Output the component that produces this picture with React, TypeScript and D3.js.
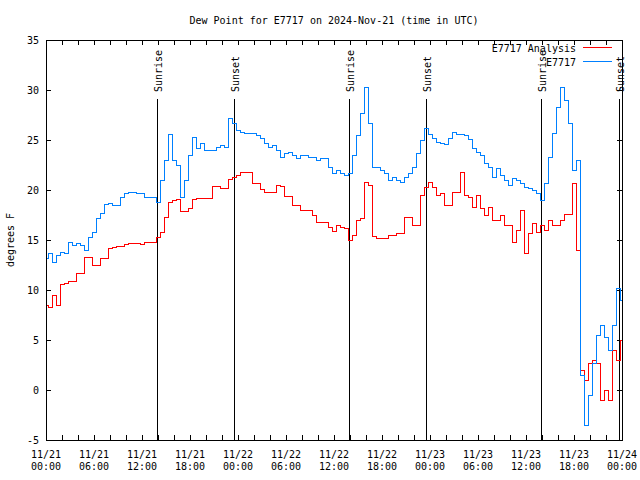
import React from "react";
import * as d3 from "d3";

const TITLE = "Dew Point for E7717 on 2024-Nov-21 (time in UTC)";
const Y_LABEL = "degrees F";
const STEP_HOURS = 0.5;

// E7717 observations, every 30 min from 11/21 00:00 UTC
const obsValues = [
  13.2, 13.7, 12.8, 13.5, 13.8, 13.7, 14.8, 14.5, 14.7, 14.5, 14.0, 15.3, 15.8, 17.2, 17.7, 18.6,
  18.7, 18.5, 18.5, 19.3, 19.7, 19.8, 19.8, 19.7, 19.7, 19.3, 19.3, 19.3, 18.8, 21.0, 23.0, 25.6,
  23.0, 22.5, 19.3, 21.0, 23.5, 25.3, 24.2, 24.7, 24.0, 24.0, 24.0, 24.3, 24.5, 24.3, 27.2, 26.7,
  26.0, 25.8, 25.7, 25.7, 25.7, 25.5, 25.2, 24.7, 24.3, 24.5, 24.0, 23.3, 23.7, 23.8, 23.5, 23.2,
  23.5, 23.5, 23.3, 23.3, 23.0, 23.2, 23.2, 22.3, 21.7, 22.0, 21.7, 21.5, 21.7, 23.5, 25.5, 27.7,
  30.3, 26.7, 22.3, 22.3, 22.0, 21.7, 21.0, 21.3, 21.0, 20.8, 21.3, 21.7, 22.3, 23.7, 25.0, 26.2,
  25.6, 25.2, 24.8, 24.7, 24.6, 25.2, 25.8, 25.6, 25.6, 25.5, 25.1, 24.2, 23.8, 23.5, 22.7, 22.3,
  21.3, 22.2, 21.5, 21.0, 20.5, 21.2, 21.0, 20.7, 20.3, 20.2, 20.0, 19.7, 19.0, 20.7, 23.3, 25.7,
  28.3, 30.3, 29.0, 26.7, 22.0, 23.0, 1.5, -3.5, -0.5, 2.7, 5.5, 6.5, 5.3, 4.0, 6.5, 10.2, 9.0,
];

// E7717 Analysis, every 30 min from 11/21 00:00 UTC
const analysisValues = [
  8.5, 8.3, 9.5, 8.5, 10.6, 10.7, 10.9, 10.9, 11.7, 11.7, 13.3, 13.3, 12.5, 12.5, 13.2, 13.2,
  14.2, 14.3, 14.4, 14.4, 14.6, 14.7, 14.7, 14.7, 14.6, 14.8, 14.8, 14.8, 15.3, 15.8, 17.3, 18.8,
  19.0, 19.1, 17.9, 17.9, 18.2, 19.1, 19.2, 19.2, 19.2, 19.2, 20.4, 20.4, 20.2, 20.2, 21.1, 21.3,
  21.5, 21.8, 21.8, 21.8, 20.7, 20.7, 20.1, 19.8, 19.8, 19.8, 20.5, 20.4, 19.4, 19.4, 18.5, 18.5,
  18.0, 18.0, 18.0, 17.5, 16.8, 16.8, 16.8, 16.3, 15.9, 16.5, 16.3, 16.2, 15.0, 15.5, 17.0, 17.2,
  20.8, 20.5, 15.4, 15.2, 15.2, 15.2, 15.5, 15.5, 15.7, 15.7, 17.3, 17.3, 16.5, 16.5, 19.5, 20.3,
  20.8, 20.3, 19.5, 19.7, 18.5, 18.5, 19.8, 19.8, 21.8, 19.5, 19.3, 18.3, 19.5, 18.2, 17.5, 18.3,
  17.0, 17.0, 17.5, 16.5, 16.5, 14.8, 16.0, 18.0, 13.7, 15.7, 16.7, 15.8, 16.5, 16.0, 17.0, 16.5,
  16.5, 17.0, 17.6, 17.6, 20.7, 14.0, 2.0, 1.0, 2.7, 3.0, 2.7, -1.0, 0.0, -1.0, 4.0, 3.0, 5.0,
];

const yTicks = [-5, 0, 5, 10, 15, 20, 25, 30, 35];
const xTickHours = [0, 6, 12, 18, 24, 30, 36, 42, 48, 54, 60, 66, 72];
const xTickDates = ["11/21", "11/21", "11/21", "11/21", "11/22", "11/22", "11/22", "11/22", "11/23", "11/23", "11/23", "11/23", "11/24"];
const xTickTimes = ["00:00", "06:00", "12:00", "18:00", "00:00", "06:00", "12:00", "18:00", "00:00", "06:00", "12:00", "18:00", "00:00"];
const sunHours = [13.9, 23.55, 37.9, 47.55, 61.9, 71.6];
const sunLabels = ["Sunrise", "Sunset", "Sunrise", "Sunset", "Sunrise", "Sunset"];
const seriesNames = ["E7717 Analysis", "E7717"];
const seriesColors = ["#ff0000", "#0080ff"];

const FONT = "'DejaVu Sans Mono', 'Liberation Mono', monospace";

export default function App() {
  const W = 640, H = 480;
  const L = 46, R = 622, T = 40, B = 440;
  const x = d3.scaleLinear().domain([0, 72]).range([L, R]);
  const y = d3.scaleLinear().domain([-5, 35]).range([B, T]);

  const line = d3
    .line<number>()
    .x((_, i) => Math.round(x(i * STEP_HOURS)) + 0.5)
    .y((v) => Math.round(y(v)) + 0.5)
    .curve(d3.curveStep);

  const minorTicks = d3.range(0, 72.001, 2);

  return (
    <svg
      width={W}
      height={H}
      style={{ position: "absolute", left: 0, top: 0, background: "#fff" }}
      fontFamily={FONT}
      fontSize={10}
    >
      <rect x={0} y={0} width={W} height={H} fill="#fff" />
      <text x={334} y={24} textAnchor="middle" fill="#000">{TITLE}</text>

      {yTicks.map((t) => (
        <g key={"y" + t}>
          <line x1={L} x2={L + 5} y1={Math.round(y(t)) + 0.5} y2={Math.round(y(t)) + 0.5} stroke="#000" />
          <line x1={R - 5} x2={R} y1={Math.round(y(t)) + 0.5} y2={Math.round(y(t)) + 0.5} stroke="#000" />
          <text x={39} y={y(t) + 4} textAnchor="end" fill="#000">{t}</text>
        </g>
      ))}

      {minorTicks.map((h) => (
        <g key={"x" + h}>
          <line x1={Math.round(x(h)) + 0.5} x2={Math.round(x(h)) + 0.5} y1={B} y2={B - 5} stroke="#000" />
          <line x1={Math.round(x(h)) + 0.5} x2={Math.round(x(h)) + 0.5} y1={T} y2={T + 5} stroke="#000" />
        </g>
      ))}
      {xTickHours.map((h, i) => (
        <g key={"xl" + h}>
          <text x={x(h)} y={458} textAnchor="middle" fill="#000">{xTickDates[i]}</text>
          <text x={x(h)} y={470} textAnchor="middle" fill="#000">{xTickTimes[i]}</text>
        </g>
      ))}

      <text transform={`translate(14,240) rotate(-90)`} textAnchor="middle" fill="#000">{Y_LABEL}</text>

      {sunHours.map((h, i) => (
        <g key={"s" + i}>
          <line x1={Math.round(x(h)) + 0.5} x2={Math.round(x(h)) + 0.5} y1={99} y2={B} stroke="#000" />
          <text transform={`translate(${Math.round(x(h)) + 5},92) rotate(-90)`} textAnchor="start" fill="#000">{sunLabels[i]}</text>
        </g>
      ))}

      <path d={line(analysisValues) || ""} fill="none" stroke={seriesColors[0]} strokeWidth={1} shapeRendering="crispEdges" />
      <path d={line(obsValues) || ""} fill="none" stroke={seriesColors[1]} strokeWidth={1} shapeRendering="crispEdges" />

      {seriesNames.map((n, i) => (
        <g key={"lg" + i}>
          <text x={576} y={52 + i * 14} textAnchor="end" fill="#000">{n}</text>
          <rect x={583} y={47 + i * 14} width={29} height={1} fill={seriesColors[i]} />
        </g>
      ))}

      <rect x={L + 0.5} y={T + 0.5} width={R - L} height={B - T} fill="none" stroke="#000" />
    </svg>
  );
}
